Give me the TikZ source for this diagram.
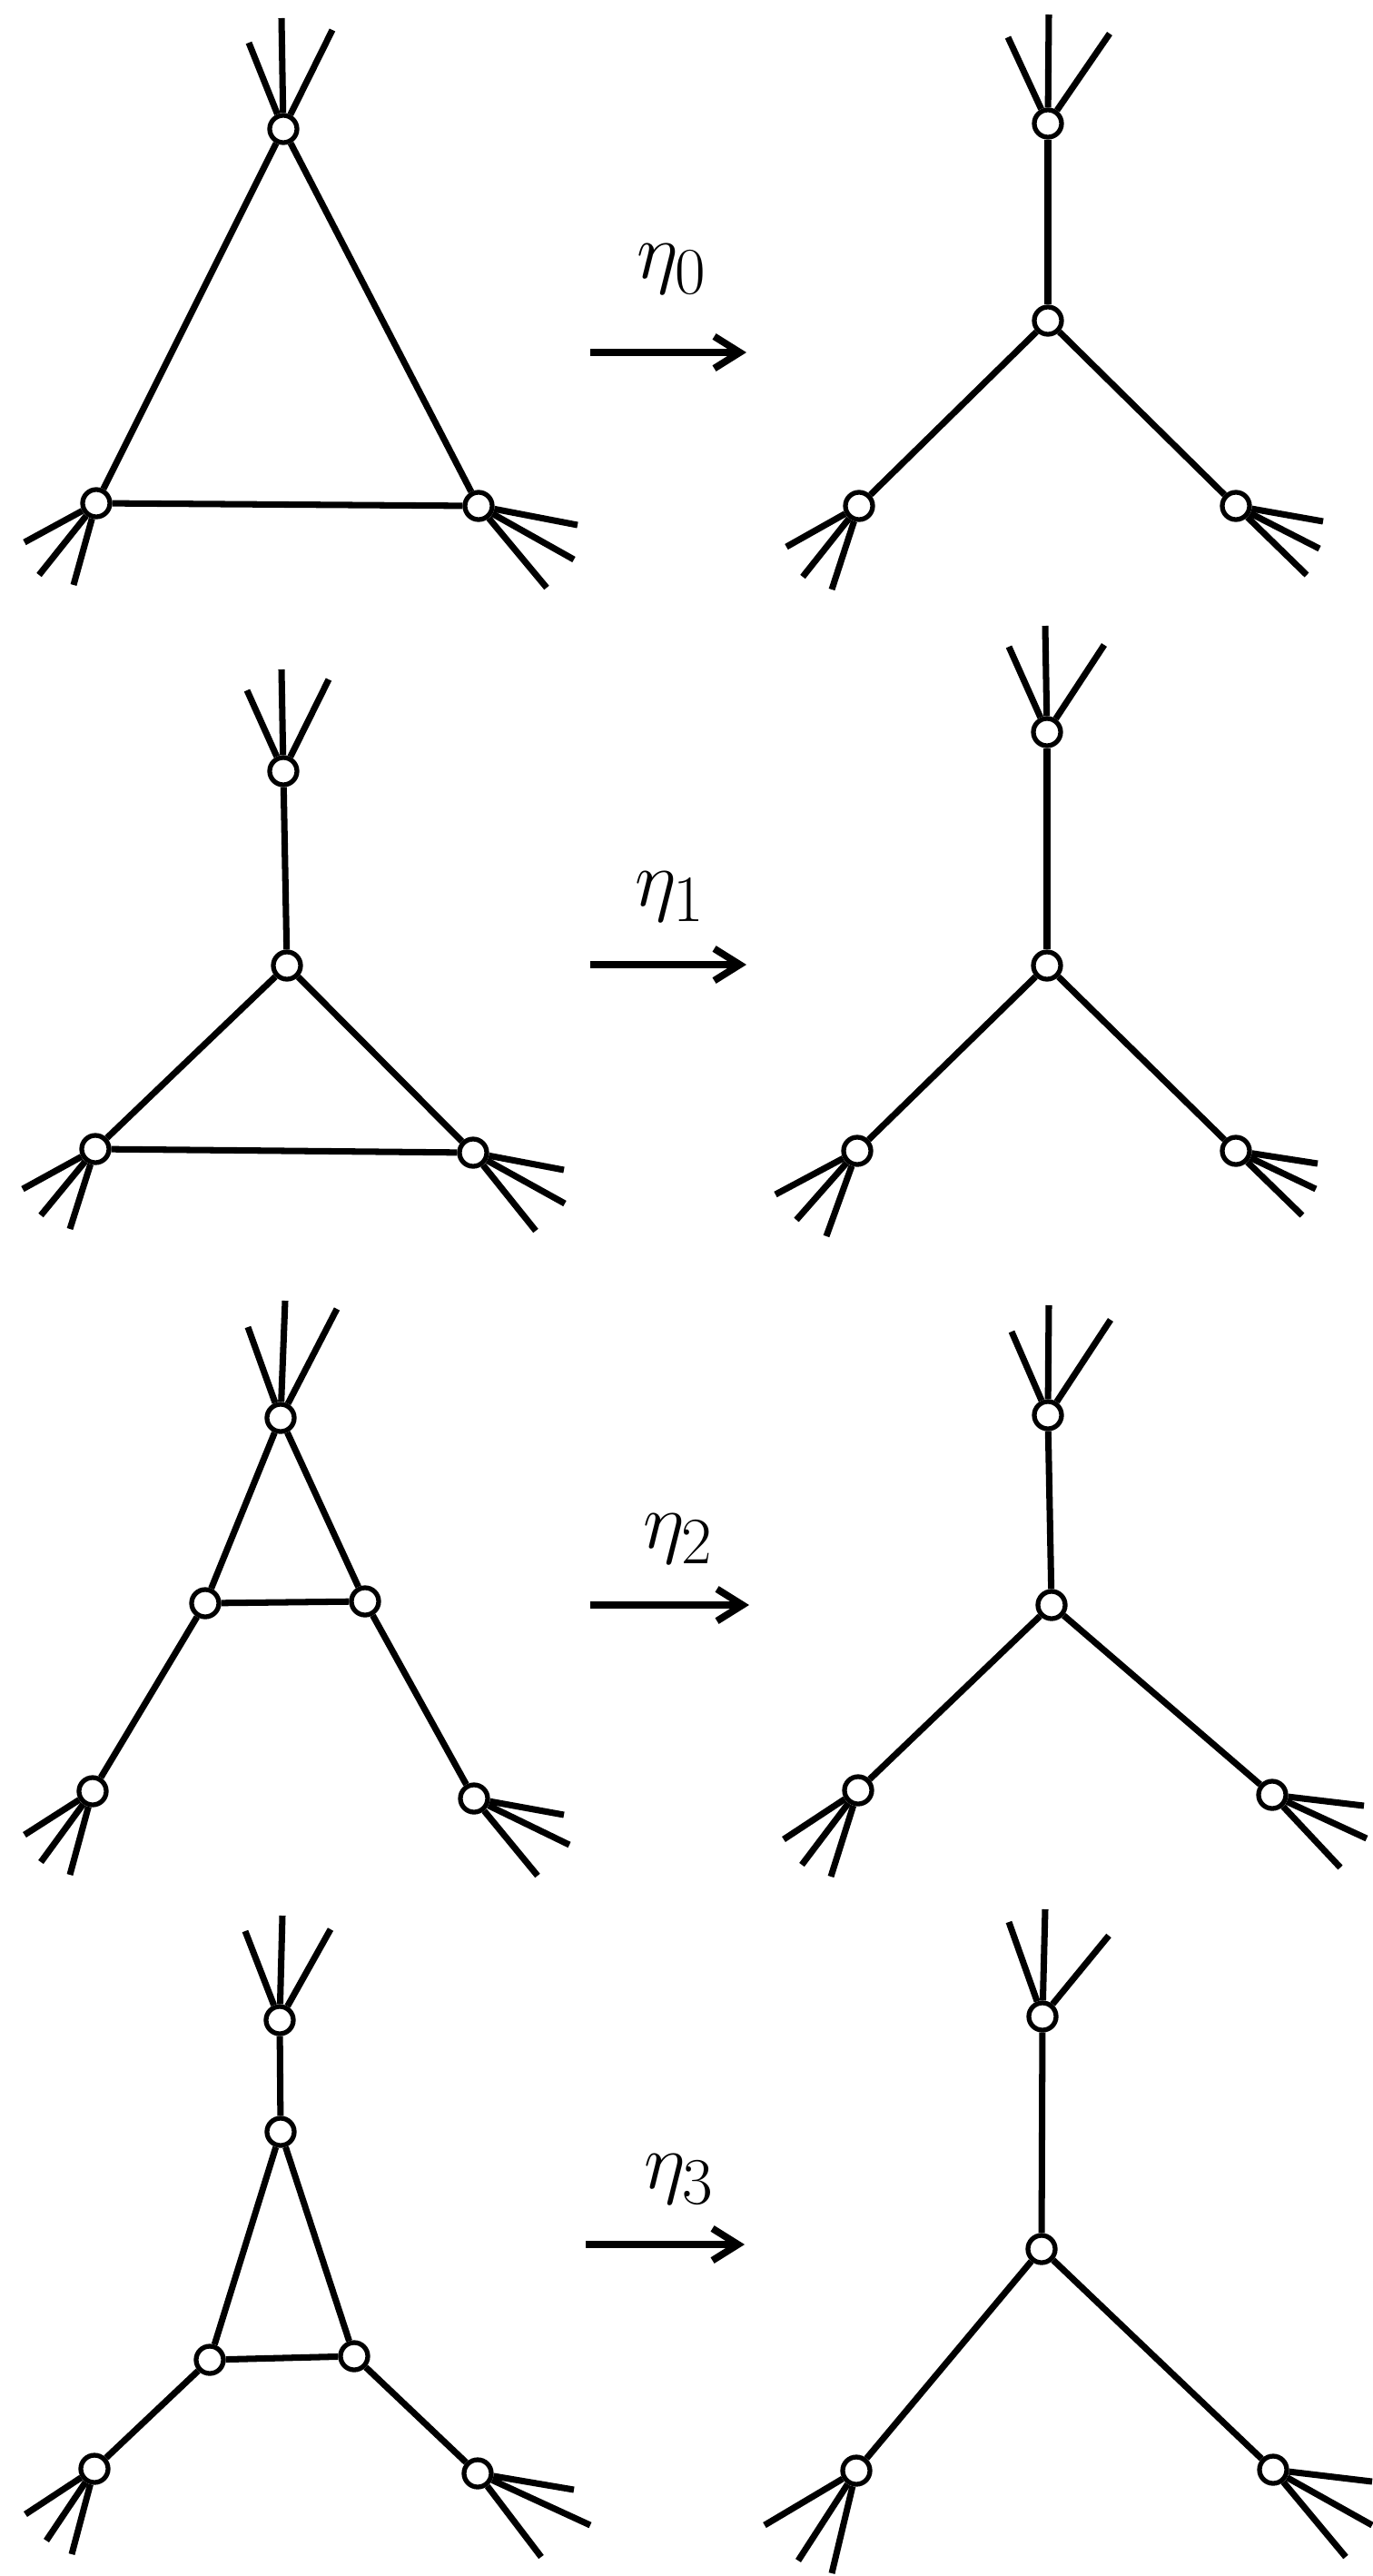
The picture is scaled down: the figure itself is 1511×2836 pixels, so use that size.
\documentclass[tikz,border=0pt]{standalone}
\usetikzlibrary{arrows.meta}

\tikzset{
  sommet/.style={circle,draw,fill=white,line width=1.5pt,inner sep=0pt,minimum size=0.3cm},
  arete/.style={line width=2pt},
  fleche/.style={line width=2.2pt,-{Straight Barb[length=8pt,width=10pt]}},
  etiq/.style={font=\Huge}
}

% trois brins libres partant d'un sommet
\newcommand{\brins}[4]{%
  \draw[arete] (#1) -- +(#2);
  \draw[arete] (#1) -- +(#3);
  \draw[arete] (#1) -- +(#4);}

\begin{document}
\begin{tikzpicture}[x=0.01cm,y=-0.01cm]
\useasboundingbox (0,0) rectangle (1511,2836);

% Ligne 1 : triangle
\node[sommet] (h1) at (312,142) {};
\node[sommet] (g1) at (106,554) {};
\node[sommet] (d1) at (527,557) {};
\draw[arete] (h1) -- (g1) -- (d1) -- (h1);
\brins{h1}{-38,-95}{-2,-122}{54,-109}
\brins{g1}{-79,43}{-63,79}{-25,90}
\brins{d1}{109,21}{105,59}{75,90}

% Fleche eta_0
\coordinate (p1) at (650,388);
\coordinate (q1) at (822,388);
\draw[fleche] (p1) -- (q1);
\node[etiq] (e1) at (740,296) {$\eta_0$};

% Ligne 1 : etoile
\node[sommet] (H1) at (1154,136) {};
\node[sommet] (O1) at (1154,353) {};
\node[sommet] (G1) at (946,557) {};
\node[sommet] (D1) at (1361,557) {};
\draw[arete] (H1) -- (O1);
\draw[arete] (O1) -- (G1);
\draw[arete] (O1) -- (D1);
\brins{H1}{-44,-95}{1,-120}{68,-99}
\brins{G1}{-80,45}{-62,78}{-30,92}
\brins{D1}{96,17}{92,47}{78,76}

% Ligne 2 : triangle avec une branche
\node[sommet] (h2) at (312,849) {};
\node[sommet] (m2) at (316,1063) {};
\node[sommet] (g2) at (105,1265) {};
\node[sommet] (d2) at (521,1269) {};
\draw[arete] (h2) -- (m2);
\draw[arete] (m2) -- (g2) -- (d2) -- (m2);
\brins{h2}{-40,-89}{-2,-112}{50,-101}
\brins{g2}{-80,44}{-60,73}{-28,88}
\brins{d2}{100,19}{101,56}{69,86}

% Fleche eta_1
\coordinate (p2) at (650,1062);
\coordinate (q2) at (822,1062);
\draw[fleche] (p2) -- (q2);
\node[etiq] (e2) at (738,987) {$\eta_1$};

% Ligne 2 : etoile
\node[sommet] (H2) at (1153,806) {};
\node[sommet] (O2) at (1153,1063) {};
\node[sommet] (G2) at (944,1267) {};
\node[sommet] (D2) at (1361,1267) {};
\draw[arete] (H2) -- (O2);
\draw[arete] (O2) -- (G2);
\draw[arete] (O2) -- (D2);
\brins{H2}{-42,-94}{-2,-117}{63,-96}
\brins{G2}{-90,48}{-67,76}{-34,94}
\brins{D2}{90,14}{88,42}{73,71}

% Ligne 3 : triangle avec deux branches
\node[sommet] (h3) at (309,1561) {};
\node[sommet] (p3) at (226,1765) {};
\node[sommet] (q3) at (402,1763) {};
\node[sommet] (g3) at (102,1972) {};
\node[sommet] (d3) at (522,1980) {};
\draw[arete] (h3) -- (p3) -- (q3) -- (h3);
\draw[arete] (p3) -- (g3);
\draw[arete] (q3) -- (d3);
\brins{h3}{-36,-100}{5,-129}{62,-120}
\brins{g3}{-75,48}{-57,78}{-25,92}
\brins{d3}{99,18}{105,51}{70,85}

% Fleche eta_2
\coordinate (p3f) at (650,1767);
\coordinate (q3f) at (825,1767);
\draw[fleche] (p3f) -- (q3f);
\node[etiq] (e3) at (747,1694) {$\eta_2$};

% Ligne 3 : etoile
\node[sommet] (H3) at (1154,1558) {};
\node[sommet] (O3) at (1158,1767) {};
\node[sommet] (G3) at (945,1971) {};
\node[sommet] (D3) at (1401,1976) {};
\draw[arete] (H3) -- (O3);
\draw[arete] (O3) -- (G3);
\draw[arete] (O3) -- (D3);
\brins{H3}{-40,-92}{1,-121}{69,-105}
\brins{G3}{-82,54}{-62,82}{-30,95}
\brins{D3}{101,12}{104,48}{75,80}

% Ligne 4 : triangle avec trois branches
\node[sommet] (h4) at (308,2224) {};
\node[sommet] (m4) at (309,2347) {};
\node[sommet] (p4) at (231,2598) {};
\node[sommet] (q4) at (390,2594) {};
\node[sommet] (g4) at (104,2718) {};
\node[sommet] (d4) at (526,2723) {};
\draw[arete] (h4) -- (m4);
\draw[arete] (m4) -- (p4) -- (q4) -- (m4);
\draw[arete] (p4) -- (g4);
\draw[arete] (q4) -- (d4);
\brins{h4}{-38,-98}{3,-115}{56,-100}
\brins{g4}{-76,50}{-53,79}{-25,94}
\brins{d4}{106,18}{124,57}{70,92}

% Fleche eta_3
\coordinate (p4f) at (645,2471);
\coordinate (q4f) at (820,2471);
\draw[fleche] (p4f) -- (q4f);
\node[etiq] (e4) at (748,2399) {$\eta_3$};

% Ligne 4 : etoile
\node[sommet] (H4) at (1148,2220) {};
\node[sommet] (O4) at (1147,2476) {};
\node[sommet] (G4) at (943,2720) {};
\node[sommet] (D4) at (1402,2719) {};
\draw[arete] (H4) -- (O4);
\draw[arete] (O4) -- (G4);
\draw[arete] (O4) -- (D4);
\brins{H4}{-37,-104}{3,-118}{73,-89}
\brins{G4}{-101,60}{-64,99}{-27,113}
\brins{D4}{109,13}{109,61}{80,96}

\end{tikzpicture}
\end{document}
